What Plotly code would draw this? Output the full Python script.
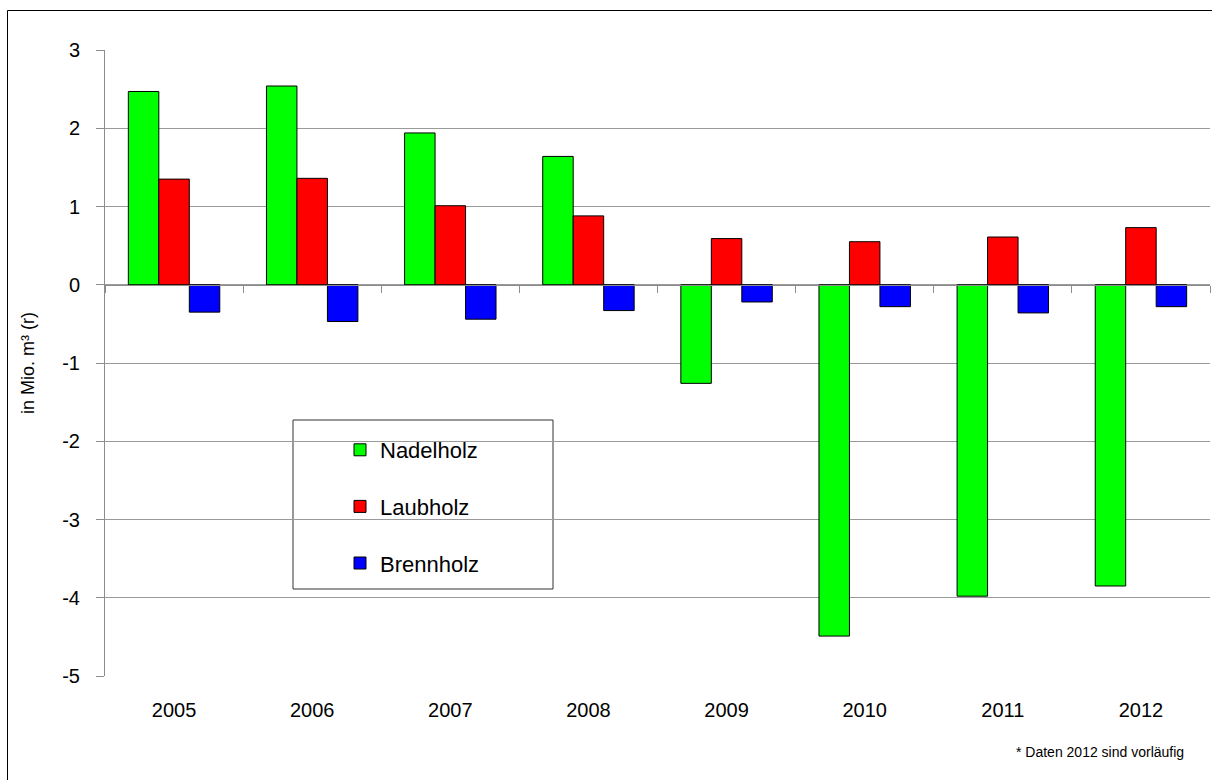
import plotly.graph_objects as go

years = ["2005", "2006", "2007", "2008", "2009", "2010", "2011", "2012"]
nadelholz = [2.47, 2.54, 1.94, 1.64, -1.26, -4.49, -3.98, -3.85]
laubholz = [1.35, 1.36, 1.01, 0.88, 0.59, 0.55, 0.61, 0.73]
brennholz = [-0.35, -0.47, -0.44, -0.33, -0.22, -0.28, -0.36, -0.28]
ytickvals = [3, 2, 1, 0, -1, -2, -3, -4, -5]
yticktext = ["3", "2", "1", "0", "-1", "-2", "-3", "-4", "-5"]

W, H = 1212, 780
ML, MR, MT, MB = 105, 2, 50, 104
PW, PH = W - ML - MR, H - MT - MB

def px_x(px):
    return (px - ML) / PW

def px_y(py):
    return 1 - (py - MT) / PH

FONT = "Arial, Liberation Sans, sans-serif"

fig = go.Figure()
for name, vals, col in [("Nadelholz", nadelholz, "#00FF00"),
                        ("Laubholz", laubholz, "#FF0000"),
                        ("Brennholz", brennholz, "#0000FF")]:
    fig.add_trace(go.Bar(x=years, y=vals, name=name, legendgroup=name,
                         marker=dict(color=col, line=dict(color="#000000", width=1))))

# invisible trace for the zero-line axis with boundary ticks
fig.add_trace(go.Scatter(x=years, y=[None] * len(years), xaxis="x2", showlegend=False,
                         hoverinfo="skip", mode="markers"))

fig.update_layout(
    width=W, height=H,
    margin=dict(l=ML, r=MR, t=MT, b=MB),
    paper_bgcolor="white", plot_bgcolor="white",
    barmode="group", bargap=0.338, bargroupgap=0,
    font=dict(family=FONT, color="black"),
    xaxis=dict(type="category", range=[-0.5, 7.5], showgrid=False, showline=False,
               ticks="", tickfont=dict(size=20, family=FONT), zeroline=False,
               ticklabelstandoff=20),
    xaxis2=dict(type="category", range=[-0.5, 7.5], overlaying="x", anchor="free",
                position=5 / 8, showgrid=False, showline=True, linecolor="#8c8c8c",
                linewidth=1, ticks="outside", tickson="boundaries", ticklen=7,
                tickcolor="#8c8c8c", showticklabels=False, zeroline=False),
    yaxis=dict(range=[-5, 3], tickvals=ytickvals, ticktext=yticktext,
               showgrid=True, gridcolor="#9a9a9a", gridwidth=1,
               showline=True, linecolor="#8c8c8c", linewidth=1, ticks="outside",
               ticklen=8, tickcolor="#8c8c8c", zeroline=False,
               tickfont=dict(size=20, family=FONT), ticklabelstandoff=12,
               title=dict(text="in Mio. m³ (r)", font=dict(size=18, family=FONT), standoff=22)),
    legend=dict(x=px_x(340), y=px_y(429), xanchor="left", yanchor="top",
                bgcolor="rgba(0,0,0,0)", borderwidth=0,
                font=dict(size=22, family=FONT), traceorder="grouped",
                tracegroupgap=25, itemclick=False),
    showlegend=True,
)

# legend box
fig.add_shape(type="rect", xref="paper", yref="paper",
              x0=px_x(293), x1=px_x(553), y0=px_y(589), y1=px_y(420),
              line=dict(color="#333333", width=1), fillcolor="white", layer="below")
# outer chart border (top and left edges visible)
fig.add_shape(type="line", xref="paper", yref="paper",
              x0=px_x(7.5), x1=px_x(1230), y0=px_y(10.5), y1=px_y(10.5),
              line=dict(color="#000000", width=1), layer="above")
fig.add_shape(type="line", xref="paper", yref="paper",
              x0=px_x(7.5), x1=px_x(7.5), y0=px_y(10.5), y1=px_y(800),
              line=dict(color="#000000", width=1), layer="above")

fig.add_annotation(text="* Daten 2012 sind vorläufig", xref="paper", yref="paper",
                   x=px_x(1186), y=px_y(752), xanchor="right", yanchor="middle",
                   showarrow=False, font=dict(size=14, family=FONT, color="black"))

fig.write_html("out.html", config={"displayModeBar": False},
               post_script=("document.documentElement.style.overflow='hidden';"
                            "document.documentElement.style.margin='0';"
                            "document.body.style.margin='0';"
                            "document.body.style.overflow='hidden';"))
